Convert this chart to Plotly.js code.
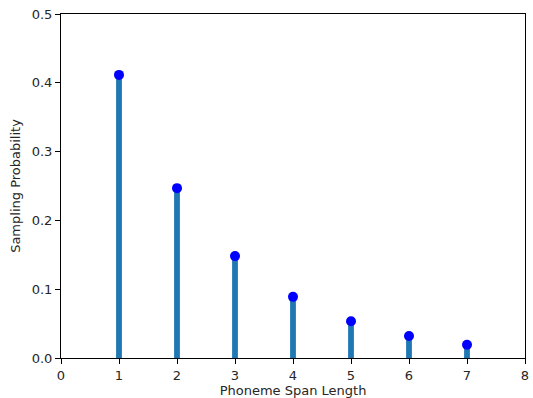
<!DOCTYPE html>
<html>
<head>
<meta charset="utf-8">
<script src="https://cdn.plot.ly/plotly-3.0.1.min.js"></script>
<style>html,body{margin:0;padding:0;background:#fff;}#chart{width:533px;height:398px;}</style>
</head>
<body>
<div id="chart"></div>
<script>
const spanLengths = [1, 2, 3, 4, 5, 6, 7];
const probabilities = [0.4115, 0.2469, 0.1481, 0.0889, 0.0533, 0.0320, 0.0192];
const xTickVals = [0, 1, 2, 3, 4, 5, 6, 7, 8];
const yTickVals = [0.0, 0.1, 0.2, 0.3, 0.4, 0.5];
const yTickText = ["0.0", "0.1", "0.2", "0.3", "0.4", "0.5"];

const font = {family: "DejaVu Sans, sans-serif", size: 13, color: "#262626"};
const titleFont = {family: "DejaVu Sans, sans-serif", size: 13, color: "#262626"};

const traces = [
  {type: "bar", x: spanLengths, y: probabilities, width: 0.1,
   marker: {color: "#1f77b4", line: {width: 0}}, hoverinfo: "skip"},
  {type: "scatter", mode: "markers", x: spanLengths, y: probabilities,
   marker: {color: "#0000ff", size: 10}}
];

const axisCommon = {
  showgrid: false, zeroline: false, showline: true, mirror: true,
  linecolor: "#000", linewidth: 1, ticks: "outside", ticklen: 5,
  tickwidth: 1, tickcolor: "#000", tickfont: font
};

const layout = {
  width: 533, height: 398,
  margin: {l: 61, r: 8, t: 14, b: 40},
  paper_bgcolor: "#fff", plot_bgcolor: "#fff",
  showlegend: false, font: font,
  xaxis: Object.assign({}, axisCommon, {
    range: [0, 8], tickvals: xTickVals,
    title: {text: "Phoneme Span Length", font: titleFont, standoff: 5}
  }),
  yaxis: Object.assign({}, axisCommon, {
    range: [0, 0.5], tickvals: yTickVals, ticktext: yTickText,
    title: {text: "Sampling Probability", font: titleFont, standoff: 8}
  })
};

Plotly.newPlot("chart", traces, layout, {staticPlot: true});
</script>
</body>
</html>
